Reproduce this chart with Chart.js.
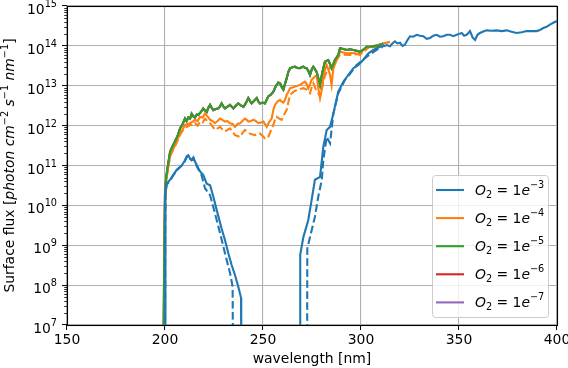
<!DOCTYPE html>
<html>
<head>
<meta charset="utf-8">
<script src="https://cdn.jsdelivr.net/npm/chart.js@4.4.1/dist/chart.umd.min.js"></script>
<style>
  html, body { margin: 0; padding: 0; background: #fff; }
  #box { width: 568px; height: 368px; }
</style>
</head>
<body>
<div id="box"><canvas id="miGrafico" width="568" height="368"></canvas></div>
<script>
// O2 = 1e-3, solid (null = gap where flux falls below the axis)
var wlBlue = [200.0, 200.2, 200.9, 202.6, 204.2, 206.0, 208.5, 210.0, 211.1, 211.9, 212.8, 213.6, 214.5, 215.3, 217.0, 218.0, 219.5, 221.3, 223.0, 224.6, 226.4, 228.9, 230.6, 232.3, 234.0, 235.7, 237.4, 238.8, 238.9,
  250.0,
  268.9, 269.0, 270.6, 273.1, 274.8, 276.5, 279.1, 280.8, 282.5, 284.2, 285.9, 288.4, 291.0, 293.5, 296.1, 298.6, 301.2, 303.8, 306.3, 309.7, 312.0, 313.1, 314.8, 316.0, 317.3, 318.5, 319.9, 321.2, 322.4, 323.7, 325.0, 326.7, 328.4, 330.1, 331.8, 333.5, 335.2, 336.9, 338.6, 340.3, 342.0, 343.7, 345.4, 347.1, 348.8, 350.1, 351.4, 352.6, 353.9, 354.8, 355.6, 357.0, 358.2, 359.4, 360.7, 362.4, 364.1, 366.6, 369.2, 371.8, 374.3, 376.8, 379.4, 382.0, 384.5, 387.0, 389.6, 391.3, 393.0, 394.7, 396.4, 398.1, 400.0];
var fluxBlue = [1e6, 2.0e10, 3.5e10, 4.4e10, 5.8e10, 7.8e10, 1.0e11, 1.3e11, 1.7e11, 1.8e11, 1.5e11, 1.4e11, 1.6e11, 1.26e11, 8.5e10, 7.0e10, 5.8e10, 3.5e10, 3.2e10, 1.7e10, 7.6e9, 2.6e9, 1.35e9, 6.3e8, 3.2e8, 1.8e8, 9.1e7, 4.8e7, 1e6,
  null,
  1e6, 5.8e8, 1.6e9, 4.3e9, 1.35e10, 4.4e10, 5.2e10, 3.0e11, 7.8e11, 9.3e11, 2.0e12, 7.1e12, 1.26e13, 1.86e13, 2.75e13, 3.3e13, 4.5e13, 6.5e13, 7.9e13, 9.5e13, 1.0e14, 1.05e14, 9.8e13, 1.15e14, 1.3e14, 1.15e14, 1.2e14, 1.0e14, 1.07e14, 1.4e14, 1.74e14, 1.7e14, 1.9e14, 1.8e14, 1.74e14, 1.5e14, 1.58e14, 1.8e14, 1.9e14, 1.7e14, 1.74e14, 1.9e14, 1.9e14, 1.75e14, 1.9e14, 2.0e14, 2.1e14, 1.8e14, 1.9e14, 2.1e14, 2.35e14, 1.6e14, 1.4e14, 1.9e14, 2.1e14, 2.3e14, 2.45e14, 2.4e14, 2.45e14, 2.35e14, 2.45e14, 2.25e14, 2.1e14, 2.2e14, 2.35e14, 2.35e14, 2.35e14, 2.5e14, 2.8e14, 3.0e14, 3.4e14, 3.8e14, 4.2e14];

// O2 = 1e-3, dashed
var wlBlueDash = [200.0, 200.2, 200.9, 202.6, 204.2, 206.0, 208.5, 210.0, 211.1, 211.9, 212.8, 213.6, 214.5, 215.3, 217.0, 218.5, 220.4, 223.0, 225.5, 228.1, 230.6, 233.2, 234.5, 234.7,
  250.0,
  272.5, 272.6, 274.0, 276.5, 278.2, 280.0, 280.8, 282.5, 284.2, 285.9, 288.4, 291.8, 294.4, 297.8, 300.4, 304.6, 308.9, 311.0];
var fluxBlueDash = [1e6, 2.0e10, 3.3e10, 4.2e10, 5.6e10, 7.6e10, 1.0e11, 1.25e11, 1.6e11, 1.75e11, 1.45e11, 1.35e11, 1.5e11, 1.2e11, 8.0e10, 6.0e10, 2.7e10, 1.8e10, 6.3e9, 2.0e9, 6.3e8, 2.0e8, 9.1e7, 1e6,
  null,
  1e6, 8.3e8, 1.6e9, 5.2e9, 1.66e10, 4.4e10, 1.4e11, 5.2e11, 3.6e11, 2.0e12, 6.5e12, 1.4e13, 2.0e13, 3.3e13, 4.2e13, 6.2e13, 8.5e13, 9.3e13];

// O2 = 1e-4, solid
var wlOrange = [199.3, 199.8, 200.2, 201.0, 202.6, 203.8, 205.1, 206.4, 207.7, 209.0, 210.2, 211.5, 212.8, 214.0, 215.3, 216.6, 217.9, 219.2, 220.4, 221.7, 223.0, 224.3, 225.5, 226.8, 228.1, 229.3, 230.6, 231.9, 233.2, 234.5, 235.7, 237.0, 238.3, 239.5, 240.8, 241.7, 242.5, 243.8, 245.1, 246.4, 247.7, 249.0, 250.2, 251.0, 251.9, 253.0, 254.4, 255.3, 256.1, 257.4, 258.7, 259.5, 260.4, 261.2, 262.1, 262.9, 263.8, 265.0, 266.3, 267.6, 268.9, 270.0, 271.4, 272.3, 273.1, 274.0, 274.8, 276.0, 277.4, 278.2, 279.1, 280.0, 280.8, 281.6, 282.5, 283.3, 284.2, 285.0, 285.9, 287.6, 289.3, 291.0, 292.7, 295.0, 297.0, 299.5, 301.2, 302.9, 305.5, 308.0, 311.4, 314.8];
var fluxOrange = [1e6, 1e9, 2.5e10, 6.0e10, 1.8e11, 2.4e11, 3.2e11, 4.5e11, 6.3e11, 8.0e11, 1.05e12, 1.1e12, 1.15e12, 1.25e12, 1.4e12, 1.3e12, 1.66e12, 1.6e12, 2.0e12, 1.7e12, 1.4e12, 1.3e12, 1.15e12, 1.3e12, 1.5e12, 1.4e12, 1.26e12, 1.3e12, 1.15e12, 1.1e12, 9.3e11, 1.1e12, 1.15e12, 1.3e12, 1.5e12, 1.4e12, 1.26e12, 1.3e12, 1.4e12, 1.3e12, 1.15e12, 1.2e12, 1.26e12, 1.1e12, 9.3e11, 1.2e12, 1.5e12, 2.5e12, 3.3e12, 4.0e12, 4.4e12, 4.0e12, 3.8e12, 4.4e12, 6.0e12, 7.0e12, 8.7e12, 9.0e12, 9.5e12, 1.0e13, 1.05e13, 1.15e13, 1.26e13, 1.1e13, 8.7e12, 1.1e13, 1.4e13, 1.6e13, 1.86e13, 8.7e12, 4.9e12, 8.0e12, 1.55e13, 2.5e13, 3.3e13, 2.6e13, 1.86e13, 1.05e13, 2.75e13, 4.4e13, 7.1e13, 6.8e13, 6.5e13, 6.6e13, 6.5e13, 5.9e13, 8.0e13, 9.5e13, 9.3e13, 9.5e13, 1.15e14, 1.26e14];

// O2 = 1e-4, dashed
var wlOrangeDash = [199.3, 199.8, 200.2, 201.0, 202.6, 203.8, 205.1, 206.4, 207.7, 209.0, 210.2, 211.5, 212.8, 214.0, 215.3, 216.6, 217.9, 219.2, 220.4, 221.7, 223.0, 224.3, 225.5, 226.8, 228.1, 229.3, 230.6, 231.9, 233.2, 234.5, 235.7, 237.0, 238.3, 239.5, 240.8, 242.0, 243.3, 244.6, 245.9, 247.2, 248.5, 249.8, 251.0, 252.0, 252.7, 254.0, 255.3, 256.1, 257.0, 258.3, 259.5, 260.8, 262.1, 263.0, 263.8, 265.5, 267.2, 268.9, 270.6, 272.3, 274.0, 274.8, 275.7, 277.0, 278.2, 279.1, 280.3, 281.6, 282.5, 284.2, 285.9, 287.6, 289.3, 291.0, 294.4, 297.5, 300.4, 302.5, 304.6, 308.0, 311.0];
var fluxOrangeDash = [1e6, 1e9, 2.4e10, 5.6e10, 1.7e11, 2.3e11, 3.0e11, 4.2e11, 5.9e11, 7.5e11, 9.0e11, 9.5e11, 1.05e12, 1.0e12, 1.15e12, 1.0e12, 1.26e12, 1.2e12, 1.5e12, 1.3e12, 1.15e12, 9.5e11, 7.8e11, 8.5e11, 9.3e11, 8.0e11, 7.1e11, 7.8e11, 8.5e11, 7.0e11, 5.8e11, 5.5e11, 5.2e11, 6.5e11, 7.8e11, 7.0e11, 6.3e11, 6.0e11, 5.8e11, 6.3e11, 6.3e11, 5.5e11, 4.8e11, 5.0e11, 5.2e11, 7.5e11, 1.05e12, 1.4e12, 1.66e12, 1.5e12, 1.4e12, 1.9e12, 2.5e12, 4.0e12, 5.9e12, 7.0e12, 7.9e12, 8.3e12, 8.7e12, 8.0e12, 6.5e12, 9.0e12, 1.15e13, 8.0e12, 6.5e12, 5.4e12, 1.0e13, 1.8e13, 2.2e13, 2.8e13, 3.5e13, 4.5e13, 5.9e13, 6.0e13, 5.9e13, 6.2e13, 6.5e13, 8.0e13, 9.5e13, 1.05e14, 1.1e14];

// O2 = 1e-5 (1e-6 and 1e-7 lie on top of it in the picture)
var wlGreen = [199.2, 199.6, 200.0, 200.6, 201.5, 202.6, 203.8, 205.1, 206.4, 207.7, 209.0, 210.2, 211.0, 211.9, 212.8, 213.6, 214.5, 215.3, 216.2, 217.0, 218.3, 219.5, 220.4, 221.3, 222.1, 223.0, 223.8, 224.6, 225.9, 227.2, 228.0, 228.9, 229.8, 230.6, 231.9, 233.2, 234.0, 234.9, 236.2, 237.4, 238.7, 240.0, 241.2, 242.5, 243.3, 244.2, 245.5, 246.8, 247.7, 248.5, 249.8, 251.0, 251.9, 252.7, 254.0, 255.3, 256.2, 257.0, 257.8, 258.7, 259.5, 260.4, 261.2, 262.1, 262.9, 263.8, 265.0, 266.3, 267.5, 268.9, 269.7, 270.6, 271.5, 272.3, 273.2, 274.0, 274.9, 275.7, 276.5, 277.4, 278.3, 279.1, 280.3, 281.6, 283.3, 284.2, 285.0, 285.9, 286.7, 288.4, 289.3, 291.0, 292.7, 294.4, 296.1, 297.8, 299.5, 301.2, 302.9, 305.0, 308.0, 311.4];
var fluxGreen = [1e6, 5e8, 2.0e10, 5.0e10, 1.0e11, 2.2e11, 3.0e11, 4.0e11, 5.5e11, 8.5e11, 1.1e12, 1.5e12, 1.3e12, 1.6e12, 1.5e12, 2.0e12, 1.7e12, 1.6e12, 1.9e12, 1.85e12, 2.2e12, 2.7e12, 2.4e12, 2.2e12, 2.8e12, 3.3e12, 2.8e12, 2.45e12, 2.6e12, 2.7e12, 3.0e12, 3.6e12, 3.0e12, 2.7e12, 3.0e12, 3.3e12, 3.0e12, 2.7e12, 3.2e12, 3.6e12, 3.2e12, 2.95e12, 3.6e12, 4.9e12, 4.2e12, 3.6e12, 4.2e12, 4.9e12, 4.0e12, 3.6e12, 3.8e12, 3.6e12, 4.5e12, 5.4e12, 6.0e12, 7.1e12, 9.0e12, 1.05e13, 1.2e13, 1.15e13, 9.5e12, 8.0e12, 1.1e13, 1.55e13, 2.2e13, 2.75e13, 2.9e13, 3.0e13, 2.8e13, 2.75e13, 2.9e13, 3.0e13, 2.8e13, 2.75e13, 2.3e13, 1.86e13, 2.6e13, 3.0e13, 2.6e13, 2.2e13, 1.5e13, 1.05e13, 2.2e13, 4.0e13, 4.4e13, 3.5e13, 2.75e13, 3.5e13, 4.4e13, 5.9e13, 8.7e13, 8.3e13, 7.9e13, 8.2e13, 7.9e13, 7.5e13, 7.1e13, 8.0e13, 9.5e13, 9.5e13, 1.0e14, 1.15e14];

var etiquetas = ['\u22123', '\u22124', '\u22125', '\u22126', '\u22127'];
var colores = ['#1f77b4', '#ff7f0e', '#2ca02c', '#d62728', '#9467bd'];
var xTicks = [150, 200, 250, 300, 350, 400];
var yExp = [7, 8, 9, 10, 11, 12, 13, 14, 15];

var FONT = "'DejaVu Sans', sans-serif";
var FS = 13.9;

function puntos(wl, fl) {
    var out = [];
    for (var i = 0; i < wl.length; i++) out.push({x: wl[i], y: fl[i]});
    return out;
}

function serie(label, wl, fl, color, dash) {
    return {
        label: label, data: puntos(wl, fl), borderColor: color, backgroundColor: color,
        borderWidth: 2.1, borderDash: dash ? [7.7, 3.3] : [], pointRadius: 0,
        tension: 0, fill: false, spanGaps: false
    };
}

// draw text made of pieces (italic / sub / superscript)
function richText(ctx, x, y, parts, measureOnly) {
    var cx = x;
    for (var i = 0; i < parts.length; i++) {
        var p = parts[i];
        var size = p.small ? FS * 0.7 : FS;
        ctx.font = (p.it ? 'italic ' : '') + size + 'px ' + FONT;
        if (!measureOnly) ctx.fillText(p.t, cx, y + (p.dy || 0));
        cx += ctx.measureText(p.t).width;
    }
    return cx - x;
}

function sinPadding(scale) {
    scale.paddingLeft = 0; scale.paddingRight = 0;
    scale.paddingTop = 0; scale.paddingBottom = 0;
}

var extras = {
    id: 'extras',
    afterDraw: function(chart) {
        var ctx = chart.ctx, a = chart.chartArea, ys = chart.scales.y;
        ctx.save();
        // minor ticks on the log axis
        ctx.strokeStyle = '#000';
        ctx.lineWidth = 0.8;
        for (var d = 7; d < 15; d++) {
            for (var k = 2; k <= 9; k++) {
                var py = Math.round(ys.getPixelForValue(k * Math.pow(10, d))) + 0.5;
                ctx.beginPath(); ctx.moveTo(a.left - 2.8, py); ctx.lineTo(a.left, py); ctx.stroke();
            }
        }
        // y tick labels 10^n
        ctx.fillStyle = '#000';
        ctx.textBaseline = 'alphabetic';
        ctx.textAlign = 'left';
        yExp.forEach(function(e) {
            var ty = ys.getPixelForValue(Math.pow(10, e));
            var parts = [{t: '10'}, {t: String(e), small: true, dy: -7}];
            var w = richText(ctx, 0, 0, parts, true);
            richText(ctx, a.left - 10 - w, ty + 8, parts);
        });

        // frame
        ctx.strokeStyle = '#000';
        ctx.lineWidth = 1.1;
        ctx.strokeRect(Math.round(a.left) + 0.5, Math.round(a.top) + 0.5, Math.round(a.right - a.left), Math.round(a.bottom - a.top));

        // legend
        var w = 116, h = 142;
        var bx = a.right - 9 - w, by = a.bottom - 8 - h;
        ctx.fillStyle = 'rgba(255,255,255,0.8)';
        ctx.strokeStyle = '#cccccc';
        ctx.lineWidth = 1;
        ctx.beginPath();
        ctx.roundRect(bx + 0.5, by + 0.5, w, h, 3);
        ctx.fill(); ctx.stroke();
        for (var i = 0; i < etiquetas.length; i++) {
            var ly = by + 15 + i * 28.1;
            ctx.strokeStyle = colores[i];
            ctx.lineWidth = 2.1;
            ctx.setLineDash([]);
            ctx.beginPath(); ctx.moveTo(bx + 4, ly); ctx.lineTo(bx + 32, ly); ctx.stroke();
            ctx.fillStyle = '#000';
            richText(ctx, bx + 43, ly + 5, [
                {t: 'O', it: true}, {t: '2', small: true, dy: 3}, {t: ' = 1'},
                {t: 'e', it: true}, {t: etiquetas[i], small: true, dy: -7}
            ]);
        }

        // y axis title
        var partes = [
            {t: 'Surface flux ['}, {t: 'photon cm', it: true}, {t: '\u22122', small: true, dy: -6},
            {t: ' s', it: true}, {t: '\u22121', small: true, dy: -6},
            {t: ' nm', it: true}, {t: '\u22121', small: true, dy: -6}, {t: ']'}
        ];
        ctx.translate(14, (a.top + a.bottom) / 2);
        ctx.rotate(-Math.PI / 2);
        var tw = richText(ctx, 0, 0, partes, true);
        richText(ctx, -tw / 2, 0, partes);
        ctx.restore();
    }
};

// index 0 is drawn on top
var datasets = [
    serie('O2 = 1e-3', wlBlue, fluxBlue, colores[0], false),
    serie('', wlBlueDash, fluxBlueDash, colores[0], true),
    serie('O2 = 1e-5', wlGreen, fluxGreen, colores[2], false),
    serie('O2 = 1e-4', wlOrange, fluxOrange, colores[1], false),
    serie('', wlOrangeDash, fluxOrangeDash, colores[1], true),
    serie('O2 = 1e-6', wlGreen, fluxGreen, colores[3], false),
    serie('O2 = 1e-7', wlGreen, fluxGreen, colores[4], false)
];

var mostrar = document.getElementById('miGrafico');
var grafico = new Chart(mostrar, {
    type: 'line',
    data: { datasets: datasets },
    plugins: [extras],
    options: {
        responsive: false,
        animation: false,
        events: [],
        layout: { padding: { top: 6, right: 11, left: 0, bottom: 0 } },
        plugins: { legend: { display: false }, tooltip: { enabled: false } },
        scales: {
            x: {
                type: 'linear', min: 150, max: 400,
                afterBuildTicks: function(scale) {
                    scale.ticks = xTicks.map(function(v) { return {value: v}; });
                },
                afterFit: function(scale) { scale.height = 43; sinPadding(scale); },
                grid: { color: '#b0b0b0', lineWidth: 1.1, tickColor: '#000', tickLength: 5, tickWidth: 1 },
                border: { display: false },
                ticks: { color: '#000', font: { family: FONT, size: FS }, padding: 2, maxRotation: 0, autoSkip: false },
                title: { display: true, text: 'wavelength [nm]', color: '#000', font: { family: FONT, size: FS }, padding: { top: 1, bottom: 0 } }
            },
            y: {
                type: 'logarithmic', min: 1e7, max: 1e15,
                afterBuildTicks: function(scale) {
                    scale.ticks = yExp.map(function(e) { return {value: Math.pow(10, e)}; });
                },
                afterFit: function(scale) { scale.width = 67; sinPadding(scale); },
                grid: { color: '#b0b0b0', lineWidth: 1.1, tickColor: '#000', tickLength: 5, tickWidth: 1 },
                border: { display: false },
                ticks: { display: false, autoSkip: false }
            }
        }
    }
});
</script>
</body>
</html>
